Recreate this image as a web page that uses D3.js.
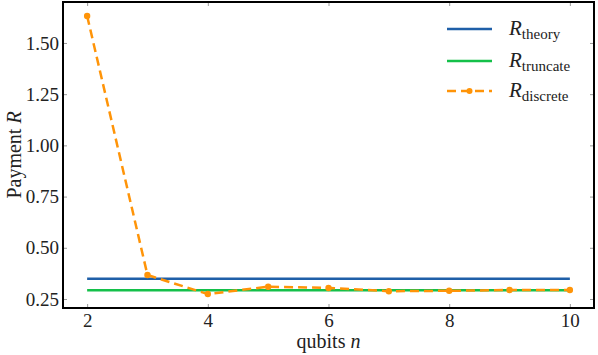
<!DOCTYPE html>
<html>
<head>
<meta charset="utf-8">
<script src="https://cdn.jsdelivr.net/npm/d3@7"></script>
<style>
  body { margin: 0; background: #fff; }
  svg { display: block; }
  svg text { font-family: "Liberation Serif", "Times New Roman", "DejaVu Serif", serif !important; fill: #222; }
</style>
</head>
<body>
<div class="chart"></div>
<script>
// data
const qubits = [2, 3, 4, 5, 6, 7, 8, 9, 10];
const discrete = [1.632, 0.367, 0.274, 0.31, 0.304, 0.288, 0.29, 0.294, 0.294];
const theory = 0.349;
const truncate = 0.293;
const xTicks = [2, 4, 6, 8, 10];
const yTicks = [0.25, 0.5, 0.75, 1.0, 1.25, 1.5];

const width = 598;
const height = 355;
const margin = { left: 63, right: 4, top: 2, bottom: 47 };
const serif = "'Liberation Serif', 'Times New Roman', serif";

const svg = d3.select(".chart")
              .append("svg")
              .attr("width", width)
              .attr("height", height)
              .attr("font-family", serif);

const x = d3.scaleLinear()
            .domain([1.6, 10.4])
            .range([margin.left, width - margin.right]);
const y = d3.scaleLinear()
            .domain([0.206, 1.70])
            .range([height - margin.bottom, margin.top]);

const x0 = margin.left, x1 = width - margin.right;
const y0 = height - margin.bottom, y1 = margin.top;

// ticks (inward, on all four sides)
const tickCol = "#999";
svg.append("g")
  .attr("transform", `translate(0,${y0})`)
  .call(d3.axisBottom(x).tickValues(xTicks).tickSize(-4).tickFormat(d3.format("d")).tickPadding(0))
  .call(g => g.attr("font-family", serif))
  .call(g => g.select(".domain").remove())
  .call(g => g.selectAll("line").attr("stroke", tickCol))
  .call(g => g.selectAll("text").style("font-size", "19px").attr("dy", "1.0em"));

svg.append("g")
  .attr("transform", `translate(${x0},0)`)
  .call(d3.axisLeft(y).tickValues(yTicks).tickSize(-4).tickFormat(d3.format(".2f")).tickPadding(4))
  .call(g => g.attr("font-family", serif))
  .call(g => g.select(".domain").remove())
  .call(g => g.selectAll("line").attr("stroke", tickCol))
  .call(g => g.selectAll("text").style("font-size", "19px"));

svg.append("g")
  .attr("transform", `translate(0,${y1})`)
  .call(d3.axisTop(x).tickValues(xTicks).tickSize(-4).tickFormat(""))
  .call(g => g.select(".domain").remove())
  .call(g => g.selectAll("line").attr("stroke", tickCol));

svg.append("g")
  .attr("transform", `translate(${x1},0)`)
  .call(d3.axisRight(y).tickValues(yTicks).tickSize(-4).tickFormat(""))
  .call(g => g.select(".domain").remove())
  .call(g => g.selectAll("line").attr("stroke", tickCol));

// lines
const line = d3.line().x((d, i) => x(qubits[i])).y(d => y(d));

svg.append("path")
  .datum(qubits.map(() => theory))
  .attr("d", line)
  .attr("fill", "none")
  .attr("stroke", "#1f5fa8")
  .attr("stroke-width", 2.5);

svg.append("path")
  .datum(qubits.map(() => truncate))
  .attr("d", line)
  .attr("fill", "none")
  .attr("stroke", "#14c04a")
  .attr("stroke-width", 2.5);

svg.append("path")
  .datum(discrete)
  .attr("d", line)
  .attr("fill", "none")
  .attr("stroke", "#ff9408")
  .attr("stroke-width", 2.5)
  .attr("stroke-dasharray", "9,5");

svg.selectAll("circle.pt")
  .data(discrete)
  .enter()
  .append("circle")
  .attr("class", "pt")
  .attr("cx", (d, i) => x(qubits[i]))
  .attr("cy", d => y(d))
  .attr("r", 3.2)
  .attr("fill", "#ff9408");

// frame
svg.append("rect")
  .attr("x", x0)
  .attr("y", y1)
  .attr("width", x1 - x0)
  .attr("height", y0 - y1)
  .attr("fill", "none")
  .attr("stroke", "#000")
  .attr("stroke-width", 2);

// axis labels
const xl = svg.append("text")
  .attr("x", (x0 + x1) / 2)
  .attr("y", 348)
  .attr("text-anchor", "middle")
  .style("font-size", "20px");
xl.append("tspan").text("qubits ");
xl.append("tspan").attr("font-style", "italic").text("n");

const yl = svg.append("text")
  .attr("transform", `translate(21,${(y0 + y1) / 2}) rotate(-90)`)
  .attr("text-anchor", "middle")
  .style("font-size", "20px");
yl.append("tspan").text("Payment ");
yl.append("tspan").attr("font-style", "italic").text("R");

// legend
const legend = [
  { name: "theory", color: "#1f5fa8", dash: null, y: 29 },
  { name: "truncate", color: "#14c04a", dash: null, y: 61 },
  { name: "discrete", color: "#ff9408", dash: "9,5", y: 91 }
];

const lg = svg.selectAll("g.leg")
  .data(legend)
  .enter()
  .append("g")
  .attr("class", "leg")
  .attr("transform", d => `translate(0,${d.y})`);

lg.append("line")
  .attr("x1", 447)
  .attr("x2", 492)
  .attr("stroke", d => d.color)
  .attr("stroke-width", 2.5)
  .attr("stroke-dasharray", d => d.dash);

lg.filter(d => d.dash)
  .append("circle")
  .attr("cx", 469.5)
  .attr("r", 3)
  .attr("fill", d => d.color);

const lt = lg.append("text")
  .attr("x", 509)
  .attr("y", 6)
  .style("font-size", "21px");
lt.append("tspan").attr("font-style", "italic").text("R");
lt.append("tspan")
  .attr("dy", 4)
  .style("font-size", "15px")
  .text(d => d.name);
</script>
</body>
</html>
